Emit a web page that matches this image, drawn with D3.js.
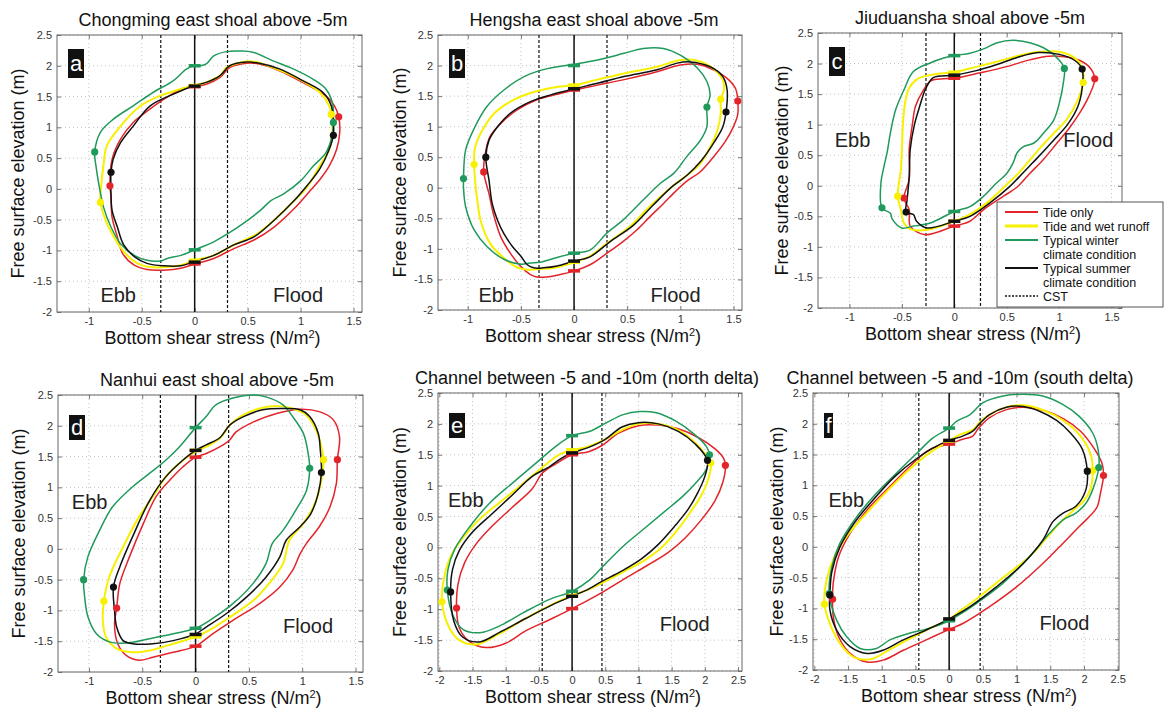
<!DOCTYPE html>
<html>
<head>
<meta charset="utf-8">
<script src="https://cdn.jsdelivr.net/npm/d3@7"></script>
<style>
  body { margin: 0; background: #fff; }
  svg text { font-family: Arial, "Liberation Sans", sans-serif; }
</style>
</head>
<body>
<svg id="chart" width="1166" height="709"></svg>
<script>
// ---- series order used by every panel: tide only, wet runoff, winter, summer
const seriesNames = ["Tide only", "Tide and wet runoff", "Typical winter|climate condition", "Typical summer|climate condition"];
const seriesColors = ["#e3242b", "#f7f000", "#1f9a5c", "#111111"];

const yTicks = [-2, -1.5, -1, -0.5, 0, 0.5, 1, 1.5, 2, 2.5];
const xTicksShoal = [-1, -0.5, 0, 0.5, 1, 1.5];
const xTicksChannel = [-2, -1.5, -1, -0.5, 0, 0.5, 1, 1.5, 2, 2.5];

const titles = [
  "Chongming east shoal above -5m",
  "Hengsha east shoal above -5m",
  "Jiuduansha shoal above -5m",
  "Nanhui east shoal above -5m",
  "Channel between -5 and -10m (north delta)",
  "Channel between -5 and -10m (south delta)"
];
const letters = ["a", "b", "c", "d", "e", "f"];
// critical shear stress lines (ebb side, flood side)
const cstValues = [[-0.32, 0.31], [-0.33, 0.31], [-0.27, 0.25], [-0.33, 0.31], [-0.45, 0.45], [-0.45, 0.46]];

// ---- panel a: Chongming east shoal
const aRed = [[0,1.66],[0.11,1.70],[0.24,1.81],[0.33,1.97],[0.49,2.04],[0.61,2.03],[0.8,1.92],[1.02,1.73],[1.24,1.51],[1.32,1.35],[1.36,1.17],[1.37,0.92],[1.34,0.64],[1.27,0.37],[1.19,0.17],[1.09,-0.03],[0.94,-0.32],[0.75,-0.62],[0.56,-0.83],[0.37,-0.97],[0.18,-1.13],[0,-1.22],[-0.13,-1.29],[-0.29,-1.32],[-0.45,-1.31],[-0.57,-1.24],[-0.68,-1.05],[-0.73,-0.78],[-0.78,-0.46],[-0.79,-0.13],[-0.8,0.05],[-0.78,0.48],[-0.70,0.81],[-0.58,1.08],[-0.42,1.3],[-0.26,1.49],[-0.11,1.63]];
const aYellow = [[0,1.68],[0.11,1.73],[0.24,1.84],[0.3,1.97],[0.43,2.05],[0.55,2.07],[0.74,1.97],[0.99,1.78],[1.18,1.57],[1.27,1.35],[1.29,1.21],[1.3,0.92],[1.27,0.64],[1.18,0.37],[1.06,0.03],[0.91,-0.24],[0.75,-0.51],[0.59,-0.73],[0.37,-0.91],[0.18,-1.08],[0,-1.16],[-0.13,-1.24],[-0.26,-1.27],[-0.42,-1.27],[-0.54,-1.21],[-0.67,-1.02],[-0.78,-0.73],[-0.84,-0.51],[-0.89,-0.22],[-0.88,0.1],[-0.86,0.4],[-0.83,0.7],[-0.70,1.02],[-0.51,1.35],[-0.33,1.51],[-0.14,1.62]];
const aGreen = [[0,2.0],[0.05,2.0],[0.11,2.03],[0.18,2.16],[0.3,2.23],[0.43,2.24],[0.55,2.22],[0.74,2.08],[0.93,1.95],[1.12,1.78],[1.24,1.62],[1.3,1.4],[1.31,1.08],[1.29,0.81],[1.24,0.59],[1.12,0.37],[1.0,0.13],[0.84,-0.08],[0.72,-0.19],[0.62,-0.35],[0.5,-0.51],[0.31,-0.73],[0.18,-0.86],[0,-0.99],[-0.13,-1.08],[-0.26,-1.13],[-0.32,-1.17],[-0.45,-1.16],[-0.57,-1.08],[-0.7,-0.89],[-0.79,-0.62],[-0.86,-0.3],[-0.9,0.03],[-0.93,0.35],[-0.944,0.6],[-0.89,0.92],[-0.77,1.13],[-0.58,1.35],[-0.39,1.57],[-0.2,1.76],[-0.075,1.95]];
const aBlack = [[0,1.68],[0.11,1.73],[0.24,1.84],[0.33,2.0],[0.49,2.06],[0.61,2.04],[0.8,1.95],[1.02,1.76],[1.21,1.57],[1.29,1.35],[1.31,1.08],[1.31,0.87],[1.27,0.64],[1.18,0.32],[1.06,0.05],[0.94,-0.19],[0.75,-0.51],[0.56,-0.78],[0.37,-0.91],[0.18,-1.08],[0,-1.18],[-0.13,-1.25],[-0.29,-1.25],[-0.45,-1.21],[-0.57,-1.1],[-0.67,-0.91],[-0.73,-0.62],[-0.78,-0.35],[-0.79,-0.08],[-0.79,0.27],[-0.77,0.48],[-0.70,0.75],[-0.58,1.02],[-0.42,1.35],[-0.2,1.54]];
const aDots = [[[1.36,1.17],[-0.8,0.05]], [[1.29,1.21],[-0.89,-0.22]], [[1.31,1.08],[-0.944,0.6]], [[1.31,0.87],[-0.79,0.27]]];
const aCross = [[1.66,-1.22], [1.68,-1.16], [2.0,-0.99], [1.67,-1.19]];

// ---- panel b: Hengsha east shoal
const bRed = [[0,1.6],[0.22,1.68],[0.47,1.77],[0.78,1.9],[1.0,2.01],[1.16,2.02],[1.31,1.93],[1.44,1.79],[1.52,1.62],[1.54,1.42],[1.54,1.2],[1.5,1.0],[1.42,0.75],[1.3,0.48],[1.18,0.25],[1.07,0.12],[0.96,-0.05],[0.84,-0.26],[0.71,-0.48],[0.59,-0.69],[0.46,-0.88],[0.31,-1.07],[0.15,-1.26],[0,-1.36],[-0.13,-1.42],[-0.26,-1.46],[-0.35,-1.46],[-0.41,-1.42],[-0.5,-1.29],[-0.6,-1.07],[-0.69,-0.8],[-0.76,-0.42],[-0.8,-0.1],[-0.85,0.26],[-0.84,0.51],[-0.79,0.84],[-0.69,1.05],[-0.54,1.27],[-0.35,1.44],[-0.16,1.53]];
const bYellow = [[0,1.68],[0.22,1.77],[0.47,1.87],[0.78,1.98],[1.0,2.09],[1.16,2.08],[1.31,1.95],[1.4,1.76],[1.41,1.6],[1.38,1.45],[1.38,1.22],[1.35,0.95],[1.29,0.7],[1.19,0.4],[1.06,0.2],[0.93,0.03],[0.71,-0.31],[0.52,-0.64],[0.31,-0.91],[0.15,-1.12],[0,-1.22],[-0.16,-1.3],[-0.32,-1.33],[-0.44,-1.34],[-0.54,-1.3],[-0.66,-1.15],[-0.79,-0.91],[-0.88,-0.53],[-0.91,-0.21],[-0.93,0.1],[-0.94,0.38],[-0.93,0.67],[-0.86,0.95],[-0.75,1.22],[-0.6,1.41],[-0.41,1.55],[-0.19,1.64]];
const bGreen = [[0,2.02],[0.22,2.09],[0.47,2.2],[0.65,2.28],[0.84,2.28],[1.0,2.17],[1.16,1.96],[1.25,1.74],[1.28,1.52],[1.25,1.32],[1.25,1.0],[1.19,0.78],[1.06,0.51],[0.94,0.24],[0.81,0.07],[0.65,-0.2],[0.46,-0.53],[0.31,-0.74],[0.15,-1.02],[0,-1.07],[-0.16,-1.14],[-0.32,-1.22],[-0.41,-1.23],[-0.5,-1.25],[-0.66,-1.17],[-0.82,-0.96],[-0.94,-0.69],[-1.02,-0.31],[-1.04,0.0],[-1.04,0.15],[-1.02,0.62],[-0.94,0.97],[-0.82,1.33],[-0.66,1.6],[-0.47,1.82],[-0.25,1.95]];
const bBlack = [[0,1.62],[0.22,1.71],[0.47,1.82],[0.78,1.93],[0.97,2.04],[1.09,2.06],[1.28,1.98],[1.4,1.82],[1.44,1.6],[1.43,1.24],[1.4,1.0],[1.32,0.75],[1.2,0.45],[1.06,0.2],[0.93,0.03],[0.74,-0.29],[0.56,-0.61],[0.34,-0.88],[0.15,-1.13],[0,-1.2],[-0.16,-1.28],[-0.29,-1.31],[-0.38,-1.31],[-0.44,-1.26],[-0.5,-1.12],[-0.58,-0.96],[-0.66,-0.75],[-0.72,-0.53],[-0.77,-0.26],[-0.8,0.12],[-0.83,0.5],[-0.8,0.78],[-0.72,1.0],[-0.6,1.22],[-0.41,1.41],[-0.22,1.52]];
const bDots = [[[1.54,1.42],[-0.85,0.26]], [[1.38,1.45],[-0.94,0.38]], [[1.25,1.32],[-1.04,0.15]], [[1.43,1.24],[-0.83,0.5]]];
const bCross = [[1.6,-1.36], [1.68,-1.22], [2.0,-1.07], [1.62,-1.2]];

// ---- panel c: Jiuduansha shoal
const cRed = [[0,1.76],[0.25,1.85],[0.5,1.95],[0.72,2.06],[0.9,2.12],[1.05,2.11],[1.2,2.05],[1.3,1.92],[1.34,1.75],[1.28,1.45],[1.2,1.2],[1.1,0.95],[0.98,0.7],[0.85,0.43],[0.72,0.2],[0.6,-0.02],[0.47,-0.17],[0.28,-0.39],[0.15,-0.58],[0,-0.66],[-0.28,-0.8],[-0.42,-0.66],[-0.43,-0.39],[-0.48,-0.2],[-0.43,0.1],[-0.43,0.6],[-0.4,1.0],[-0.37,1.3],[-0.3,1.55],[-0.22,1.72],[-0.1,1.75]];
const cYellow = [[0,1.86],[0.22,1.95],[0.47,2.06],[0.72,2.17],[0.95,2.2],[1.1,2.14],[1.2,2.0],[1.23,1.85],[1.23,1.69],[1.18,1.41],[1.07,1.08],[0.95,0.86],[0.82,0.62],[0.72,0.42],[0.62,0.22],[0.5,0.02],[0.31,-0.28],[0.15,-0.47],[0,-0.58],[-0.26,-0.72],[-0.42,-0.71],[-0.48,-0.61],[-0.51,-0.39],[-0.54,-0.17],[-0.51,0.26],[-0.5,0.59],[-0.49,1.0],[-0.47,1.35],[-0.43,1.6],[-0.35,1.75],[-0.2,1.82]];
const cGreen = [[0,2.13],[0.15,2.17],[0.28,2.24],[0.41,2.34],[0.56,2.38],[0.72,2.34],[0.88,2.23],[1.0,2.06],[1.05,1.92],[1.04,1.68],[1.01,1.41],[0.95,1.08],[0.85,0.86],[0.76,0.7],[0.66,0.64],[0.6,0.54],[0.56,0.37],[0.5,0.2],[0.4,0.04],[0.28,-0.17],[0.15,-0.34],[0,-0.42],[-0.23,-0.61],[-0.39,-0.66],[-0.5,-0.69],[-0.59,-0.55],[-0.61,-0.45],[-0.69,-0.36],[-0.70,0.04],[-0.67,0.32],[-0.64,0.55],[-0.61,0.86],[-0.56,1.24],[-0.48,1.57],[-0.39,1.87],[-0.23,2.01],[-0.1,2.09]];
const cBlack = [[0,1.81],[0.2,1.88],[0.4,1.98],[0.6,2.1],[0.8,2.18],[1.0,2.15],[1.15,2.05],[1.22,1.91],[1.22,1.6],[1.18,1.3],[1.08,1.0],[0.95,0.75],[0.85,0.56],[0.75,0.38],[0.65,0.2],[0.53,-0.01],[0.34,-0.28],[0.15,-0.5],[0,-0.58],[-0.26,-0.69],[-0.36,-0.58],[-0.39,-0.47],[-0.46,-0.43],[-0.45,-0.23],[-0.43,0.15],[-0.42,0.6],[-0.38,1.0],[-0.33,1.3],[-0.27,1.6],[-0.2,1.77]];
const cDots = [[[1.34,1.75],[-0.48,-0.2]], [[1.23,1.69],[-0.54,-0.17]], [[1.05,1.92],[-0.69,-0.36]], [[1.22,1.91],[-0.46,-0.43]]];
const cCross = [[1.76,-0.66], [1.86,-0.58], [2.13,-0.42], [1.81,-0.58]];

// ---- panel d: Nanhui east shoal
const dRed = [[0,1.49],[0.1,1.55],[0.23,1.66],[0.32,1.77],[0.38,1.9],[0.54,2.06],[0.76,2.2],[0.98,2.27],[1.16,2.23],[1.29,2.1],[1.35,1.82],[1.33,1.45],[1.32,1.06],[1.26,0.68],[1.16,0.36],[1.04,0.09],[0.98,-0.08],[0.91,-0.35],[0.79,-0.62],[0.6,-0.89],[0.35,-1.16],[0.16,-1.38],[0,-1.58],[-0.21,-1.68],[-0.4,-1.76],[-0.53,-1.81],[-0.65,-1.73],[-0.73,-1.54],[-0.76,-1.22],[-0.74,-0.96],[-0.71,-0.56],[-0.62,-0.13],[-0.49,0.41],[-0.37,0.85],[-0.24,1.12],[-0.12,1.33]];
const dYellow = [[0,1.58],[0.1,1.66],[0.23,1.8],[0.32,2.01],[0.44,2.17],[0.6,2.28],[0.76,2.32],[0.91,2.28],[1.04,2.17],[1.13,1.93],[1.18,1.66],[1.2,1.45],[1.18,1.12],[1.12,0.74],[1.01,0.41],[0.88,0.14],[0.82,-0.24],[0.69,-0.56],[0.54,-0.84],[0.32,-1.11],[0.13,-1.32],[0,-1.43],[-0.21,-1.54],[-0.43,-1.65],[-0.59,-1.68],[-0.74,-1.62],[-0.84,-1.43],[-0.87,-1.16],[-0.86,-0.85],[-0.81,-0.46],[-0.68,0.03],[-0.53,0.52],[-0.4,0.85],[-0.28,1.17],[-0.12,1.44]];
const dGreen = [[0,1.97],[0.1,2.15],[0.19,2.34],[0.35,2.45],[0.54,2.5],[0.66,2.47],[0.82,2.34],[0.91,2.15],[1.01,1.88],[1.05,1.61],[1.07,1.31],[1.04,0.95],[0.94,0.63],[0.82,0.3],[0.72,0.09],[0.66,-0.24],[0.54,-0.56],[0.35,-0.89],[0.16,-1.13],[0,-1.29],[-0.21,-1.38],[-0.43,-1.46],[-0.65,-1.53],[-0.81,-1.51],[-0.93,-1.38],[-1.01,-1.1],[-1.04,-0.78],[-1.05,-0.5],[-1.01,-0.13],[-0.9,0.3],[-0.78,0.68],[-0.59,1.01],[-0.43,1.23],[-0.28,1.44],[-0.15,1.66]];
const dBlack = [[0,1.6],[0.1,1.69],[0.23,1.81],[0.32,2.01],[0.44,2.14],[0.63,2.26],[0.82,2.28],[0.98,2.26],[1.07,2.15],[1.15,1.88],[1.17,1.6],[1.18,1.24],[1.15,0.9],[1.08,0.57],[0.98,0.36],[0.85,0.14],[0.79,-0.13],[0.66,-0.46],[0.48,-0.78],[0.29,-1.05],[0.1,-1.27],[0,-1.38],[-0.21,-1.49],[-0.4,-1.54],[-0.59,-1.54],[-0.68,-1.49],[-0.74,-1.27],[-0.76,-1.0],[-0.77,-0.62],[-0.71,-0.29],[-0.59,0.2],[-0.43,0.79],[-0.28,1.17],[-0.12,1.44]];
const dDots = [[[1.33,1.45],[-0.74,-0.96]], [[1.2,1.45],[-0.86,-0.85]], [[1.07,1.31],[-1.05,-0.5]], [[1.18,1.24],[-0.77,-0.62]]];
const dCross = [[1.49,-1.58], [1.6,-1.43], [1.97,-1.29], [1.6,-1.39]];

// ---- panel e: channel, north delta
const eRed = [[0,1.5],[0.25,1.55],[0.45,1.65],[0.7,1.85],[1.0,1.97],[1.3,1.98],[1.6,1.92],[1.9,1.78],[2.15,1.6],[2.28,1.45],[2.31,1.33],[2.27,1.05],[2.15,0.75],[1.95,0.45],[1.7,0.15],[1.45,-0.08],[1.15,-0.28],[0.8,-0.5],[0.5,-0.7],[0.25,-0.85],[0,-0.99],[-0.3,-1.15],[-0.7,-1.35],[-1.0,-1.55],[-1.3,-1.62],[-1.55,-1.52],[-1.7,-1.3],[-1.74,-0.98],[-1.72,-0.6],[-1.62,-0.25],[-1.45,0.05],[-1.2,0.35],[-0.9,0.65],[-0.6,0.95],[-0.45,1.2],[-0.25,1.35]];
const eYellow = [[0,1.58],[0.2,1.62],[0.5,1.75],[0.75,1.9],[1.0,2.0],[1.3,2.0],[1.6,1.9],[1.85,1.7],[2.0,1.52],[2.09,1.37],[2.05,1.1],[1.95,0.85],[1.8,0.6],[1.6,0.3],[1.35,0.0],[1.1,-0.2],[0.8,-0.38],[0.5,-0.55],[0.25,-0.68],[0,-0.78],[-0.3,-0.92],[-0.7,-1.15],[-1.1,-1.4],[-1.45,-1.57],[-1.7,-1.5],[-1.85,-1.3],[-1.96,-0.88],[-1.93,-0.5],[-1.83,-0.15],[-1.65,0.15],[-1.4,0.45],[-1.1,0.72],[-0.8,0.98],[-0.5,1.25],[-0.2,1.5]];
const eGreen = [[0,1.81],[0.27,1.88],[0.52,2.02],[0.77,2.15],[1.02,2.2],[1.27,2.18],[1.57,2.04],[1.82,1.85],[2.02,1.64],[2.07,1.5],[2.02,1.26],[1.87,1.05],[1.67,0.83],[1.37,0.56],[1.07,0.29],[0.77,0.02],[0.47,-0.3],[0.27,-0.52],[0,-0.71],[-0.34,-0.84],[-0.74,-1.06],[-1.09,-1.27],[-1.39,-1.38],[-1.64,-1.33],[-1.79,-1.11],[-1.88,-0.69],[-1.87,-0.36],[-1.77,-0.03],[-1.54,0.34],[-1.24,0.72],[-0.89,1.05],[-0.54,1.37],[-0.24,1.64]];
const eBlack = [[0,1.53],[0.25,1.62],[0.5,1.75],[0.75,1.95],[1.0,2.02],[1.3,2.0],[1.6,1.88],[1.85,1.68],[2.04,1.41],[2.0,1.15],[1.9,0.9],[1.75,0.62],[1.55,0.35],[1.3,0.05],[1.05,-0.18],[0.75,-0.38],[0.45,-0.55],[0.2,-0.7],[0,-0.79],[-0.3,-0.93],[-0.7,-1.15],[-1.1,-1.38],[-1.4,-1.53],[-1.65,-1.45],[-1.78,-1.2],[-1.83,-0.72],[-1.8,-0.35],[-1.7,-0.05],[-1.5,0.25],[-1.2,0.55],[-0.9,0.85],[-0.6,1.15],[-0.35,1.3],[-0.15,1.45]];
const eDots = [[[2.31,1.33],[-1.74,-0.98]], [[2.09,1.37],[-1.96,-0.88]], [[2.07,1.5],[-1.88,-0.69]], [[2.04,1.41],[-1.83,-0.72]]];
const eCross = [[1.5,-0.99], [1.58,-0.78], [1.81,-0.71], [1.53,-0.79]];

// ---- panel f: channel, south delta
const fRed = [[0,1.67],[0.2,1.75],[0.35,1.8],[0.43,1.92],[0.6,2.1],[0.85,2.23],[1.1,2.27],[1.4,2.22],[1.7,2.08],[1.95,1.88],[2.15,1.6],[2.27,1.35],[2.29,1.16],[2.25,0.9],[2.2,0.66],[2.13,0.55],[1.93,0.33],[1.69,0.06],[1.39,-0.27],[1.0,-0.65],[0.6,-0.97],[0.21,-1.24],[0,-1.34],[-0.34,-1.51],[-0.68,-1.68],[-0.98,-1.84],[-1.22,-1.87],[-1.47,-1.73],[-1.64,-1.46],[-1.72,-1.13],[-1.73,-0.85],[-1.72,-0.59],[-1.64,-0.16],[-1.47,0.22],[-1.17,0.66],[-0.88,0.98],[-0.58,1.31],[-0.29,1.58]];
const fYellow = [[0,1.72],[0.15,1.82],[0.35,1.9],[0.45,2.02],[0.6,2.15],[0.85,2.27],[1.1,2.3],[1.4,2.22],[1.7,2.05],[1.95,1.8],[2.1,1.5],[2.13,1.24],[2.1,0.95],[2.0,0.75],[1.85,0.6],[1.65,0.4],[1.45,0.15],[1.2,-0.15],[0.8,-0.5],[0.4,-0.85],[0.15,-1.05],[0,-1.18],[-0.3,-1.33],[-0.6,-1.5],[-0.9,-1.68],[-1.15,-1.82],[-1.4,-1.8],[-1.6,-1.6],[-1.75,-1.3],[-1.85,-0.93],[-1.82,-0.55],[-1.7,-0.15],[-1.5,0.2],[-1.2,0.58],[-0.9,0.93],[-0.6,1.25],[-0.3,1.52]];
const fGreen = [[0,1.93],[0.11,2.04],[0.31,2.15],[0.5,2.34],[0.8,2.45],[1.1,2.48],[1.39,2.45],[1.69,2.31],[1.93,2.12],[2.13,1.85],[2.21,1.58],[2.22,1.29],[2.13,0.93],[2.03,0.71],[1.88,0.55],[1.69,0.44],[1.49,0.22],[1.19,-0.16],[0.8,-0.59],[0.4,-0.92],[0.11,-1.13],[0,-1.2],[-0.29,-1.32],[-0.58,-1.4],[-0.88,-1.51],[-1.08,-1.65],[-1.32,-1.65],[-1.52,-1.46],[-1.67,-1.19],[-1.78,-0.76],[-1.74,-0.32],[-1.62,0.06],[-1.37,0.49],[-1.08,0.87],[-0.78,1.2],[-0.48,1.52],[-0.24,1.77]];
const fBlack = [[0,1.73],[0.2,1.8],[0.35,1.88],[0.45,2.0],[0.6,2.15],[0.85,2.27],[1.1,2.28],[1.35,2.2],[1.6,2.05],[1.8,1.85],[1.97,1.6],[2.05,1.23],[2.03,0.93],[1.88,0.66],[1.69,0.55],[1.54,0.41],[1.39,0.11],[1.1,-0.27],[0.7,-0.65],[0.31,-0.97],[0,-1.17],[-0.34,-1.35],[-0.68,-1.51],[-0.98,-1.68],[-1.22,-1.73],[-1.47,-1.62],[-1.67,-1.35],[-1.77,-1.02],[-1.77,-0.78],[-1.74,-0.4],[-1.62,0.0],[-1.4,0.4],[-1.1,0.8],[-0.8,1.15],[-0.5,1.42],[-0.25,1.6]];
const fDots = [[[2.29,1.16],[-1.73,-0.85]], [[2.13,1.24],[-1.85,-0.93]], [[2.22,1.29],[-1.78,-0.76]], [[2.05,1.23],[-1.77,-0.78]]];
const fCross = [[1.67,-1.34], [1.72,-1.18], [1.93,-1.2], [1.73,-1.17]];

// Ebb / Flood label anchors in data units
const ebbPos = [[-0.89,-1.83], [-0.9,-1.87], [-1.14,0.64], [-1.16,0.65], [-1.87,0.66], [-1.79,0.65]];
const floodPos = [[0.74,-1.83], [0.72,-1.87], [1.04,0.64], [0.82,-1.37], [1.32,-1.36], [1.34,-1.35]];

// ---- layout (pixels)
const frames = [
  { left: 57, top: 35, w: 305, h: 277, xd: [-1.3, 1.58], titleX: 213, ylab: 18 },
  { left: 438, top: 35, w: 304, h: 275, xd: [-1.28, 1.58], titleX: 594, ylab: 400 },
  { left: 818, top: 33, w: 304, h: 275, xd: [-1.3, 1.6], titleX: 970, ylab: 782 },
  { left: 58, top: 395, w: 305, h: 277, xd: [-1.29, 1.57], titleX: 217, ylab: 19 },
  { left: 438, top: 393, w: 304, h: 278, xd: [-2.02, 2.56], titleX: 587, ylab: 400 },
  { left: 813, top: 393, w: 306, h: 277, xd: [-2.02, 2.52], titleX: 960, ylab: 777 }
];

const loops = [
  [aRed, aYellow, aGreen, aBlack],
  [bRed, bYellow, bGreen, bBlack],
  [cRed, cYellow, cGreen, cBlack],
  [dRed, dYellow, dGreen, dBlack],
  [eRed, eYellow, eGreen, eBlack],
  [fRed, fYellow, fGreen, fBlack]
];
const dots = [aDots, bDots, cDots, dDots, eDots, fDots];
const crossings = [aCross, bCross, cCross, dCross, eCross, fCross];

const svg = d3.select("#chart");

frames.forEach((fr, i) => {
  const g = svg.append("g").attr("transform", `translate(${fr.left},${fr.top})`);
  const x = d3.scaleLinear().domain(fr.xd).range([0, fr.w]);
  const y = d3.scaleLinear().domain([-2, 2.5]).range([fr.h, 0]);
  const xTicks = i >= 4 ? xTicksChannel : xTicksShoal;

  // dotted grid
  g.append("g").selectAll("line").data(xTicks).join("line")
    .attr("x1", d => x(d)).attr("x2", d => x(d))
    .attr("y1", 0).attr("y2", fr.h)
    .attr("stroke", "#c4c4c4").attr("stroke-dasharray", "1,3");
  g.append("g").selectAll("line").data(yTicks).join("line")
    .attr("y1", d => y(d)).attr("y2", d => y(d))
    .attr("x1", 0).attr("x2", fr.w)
    .attr("stroke", "#c4c4c4").attr("stroke-dasharray", "1,3");

  // axes with inward ticks
  const xAxis = g.append("g").attr("transform", `translate(0,${fr.h})`)
    .call(d3.axisBottom(x).tickValues(xTicks).tickSize(-4).tickPadding(5).tickFormat(d => String(d)));
  const yAxis = g.append("g")
    .call(d3.axisLeft(y).tickValues(yTicks).tickSize(-4).tickPadding(5).tickFormat(d => String(d)));
  g.append("g").call(d3.axisTop(x).tickValues(xTicks).tickSize(-4).tickFormat(""));
  g.append("g").attr("transform", `translate(${fr.w},0)`)
    .call(d3.axisRight(y).tickValues(yTicks).tickSize(-4).tickFormat(""));
  g.selectAll(".domain").remove();
  g.selectAll(".tick line").attr("stroke", "#777");
  [xAxis, yAxis].forEach(a => a.selectAll("text").attr("font-size", 11).attr("fill", "#333")
    .attr("font-family", "Arial, 'Liberation Sans', sans-serif"));

  g.append("rect").attr("width", fr.w).attr("height", fr.h)
    .attr("fill", "none").attr("stroke", "#666").attr("stroke-width", 1);

  // zero line and critical shear stress lines
  g.append("line").attr("x1", x(0)).attr("x2", x(0)).attr("y1", 0).attr("y2", fr.h)
    .attr("stroke", "#111").attr("stroke-width", 1.5);
  g.append("g").selectAll("line").data(cstValues[i]).join("line")
    .attr("x1", d => x(d)).attr("x2", d => x(d)).attr("y1", 0).attr("y2", fr.h)
    .attr("stroke", "#111").attr("stroke-width", 1.2).attr("stroke-dasharray", "3,2");

  // hysteresis loops
  const line = d3.line().x(d => x(d[0])).y(d => y(d[1]))
    .curve(d3.curveCatmullRomClosed.alpha(0.5));
  loops[i].forEach((pts, s) => {
    g.append("path").attr("d", line(pts))
      .attr("fill", "none").attr("stroke", seriesColors[s])
      .attr("stroke-width", s === 1 ? 2 : 1.5).attr("stroke-linejoin", "round");
  });

  // slack markers at zero stress, and peak dots
  crossings[i].forEach((ys, s) => {
    g.append("g").selectAll("line").data(ys).join("line")
      .attr("x1", x(0) - 6).attr("x2", x(0) + 6)
      .attr("y1", d => y(d)).attr("y2", d => y(d))
      .attr("stroke", seriesColors[s]).attr("stroke-width", 3.5);
  });
  dots[i].forEach((pts, s) => {
    g.append("g").selectAll("circle").data(pts).join("circle")
      .attr("cx", d => x(d[0])).attr("cy", d => y(d[1])).attr("r", 3.6)
      .attr("fill", seriesColors[s]);
  });

  // Ebb / Flood labels
  g.append("text").attr("x", x(ebbPos[i][0])).attr("y", y(ebbPos[i][1]))
    .attr("font-size", 20).attr("fill", "#222").text("Ebb");
  g.append("text").attr("x", x(floodPos[i][0])).attr("y", y(floodPos[i][1]))
    .attr("font-size", 20).attr("fill", "#222").text("Flood");

  // panel letter
  const boxTop = i < 3 ? 14 : 20;
  const boxH = i < 3 ? 29 : 25;
  const boxW = i === 5 ? 9 : 16;
  g.append("rect").attr("x", 11).attr("y", boxTop).attr("width", boxW).attr("height", boxH)
    .attr("fill", "#111");
  g.append("text").attr("x", 11 + boxW / 2).attr("y", boxTop + boxH / 2 + 7)
    .attr("text-anchor", "middle").attr("font-size", 22).attr("fill", "#fff").text(letters[i]);

  // titles and axis labels
  svg.append("text").attr("x", fr.titleX).attr("y", fr.top - 9)
    .attr("text-anchor", "middle").attr("font-size", 18).attr("fill", "#111").text(titles[i]);
  const xl = svg.append("text").attr("x", fr.left + fr.w / 2 + 3).attr("y", fr.top + fr.h + 32)
    .attr("text-anchor", "middle").attr("font-size", 18).attr("fill", "#111");
  xl.append("tspan").text("Bottom shear stress (N/m");
  xl.append("tspan").attr("font-size", 11).attr("dy", -6).text("2");
  xl.append("tspan").attr("dy", 6).text(")");
  svg.append("text")
    .attr("transform", `translate(${fr.ylab + 6},${fr.top + fr.h / 2}) rotate(-90)`)
    .attr("text-anchor", "middle").attr("font-size", 18).attr("fill", "#111")
    .text("Free surface elevation (m)");
});

// legend (inside panel c)
const lg = svg.append("g").attr("transform", "translate(997,202)");
lg.append("rect").attr("width", 166).attr("height", 105)
  .attr("fill", "#fff").attr("stroke", "#555").attr("stroke-width", 1);
const rowStep = 14;
const legendItems = seriesNames.concat(["CST"]);
let row = 0;
legendItems.forEach((name, k) => {
  const parts = name.split("|");
  const base = 15 + row * rowStep;
  lg.append("line").attr("x1", 8).attr("x2", 41).attr("y1", base - 5).attr("y2", base - 5)
    .attr("stroke", k < 4 ? seriesColors[k] : "#111")
    .attr("stroke-width", k === 1 ? 3 : (k < 4 ? 2 : 1.5))
    .attr("stroke-dasharray", k === 4 ? "2,1.5" : null);
  parts.forEach((part, j) => {
    lg.append("text").attr("x", 46).attr("y", base + j * rowStep)
      .attr("font-size", 12.5).attr("fill", "#111").text(part);
  });
  row += parts.length;
});
</script>
</body>
</html>
